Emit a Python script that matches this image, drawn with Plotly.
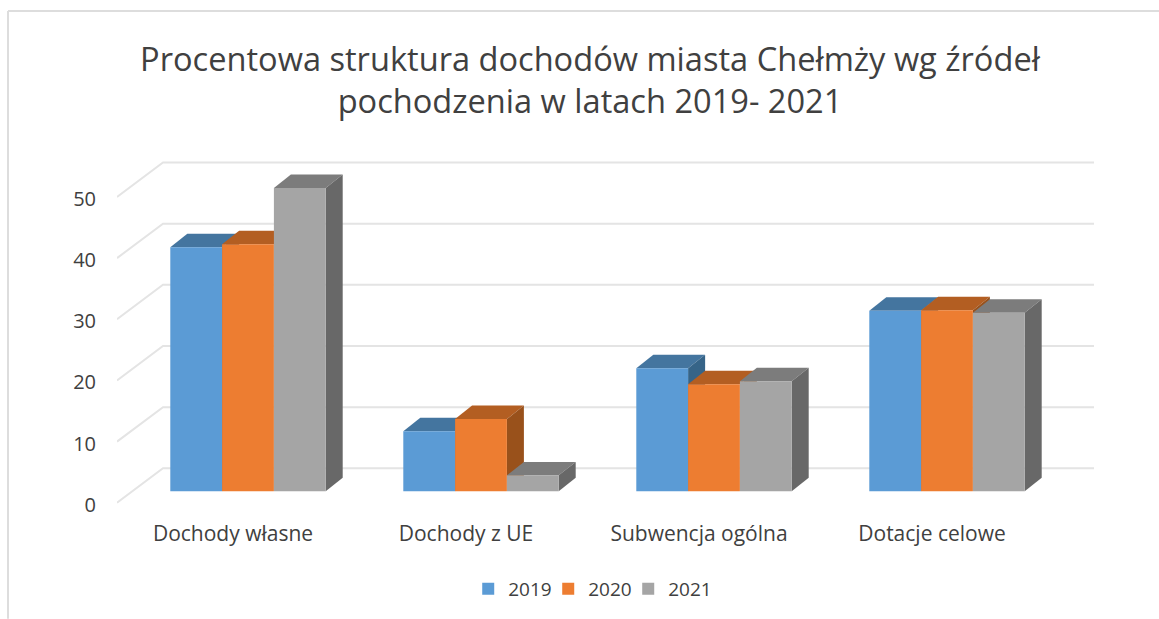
import plotly.graph_objects as go

categories = ["Dochody własne", "Dochody z UE", "Subwencja ogólna", "Dotacje celowe"]
years = ["2019", "2020", "2021"]
v2019 = [39.9, 9.8, 20.1, 29.5]
v2020 = [40.4, 11.8, 17.5, 29.6]
v2021 = [49.6, 2.6, 18.0, 29.2]
y_ticks = [0, 10, 20, 30, 40, 50]
series_values = [v2019, v2020, v2021]
front_colors = ["#5B9BD5", "#ED7D31", "#A5A5A5"]
top_colors = ["#44759F", "#B35E22", "#7C7C7C"]
side_colors = ["#366488", "#99511B", "#686868"]

W, H = 1159, 619
PX_X = 233.0
PX_Y = 6.12
Y_MIN = -2
L, R, T = 117, 1094, 130
ZERO_PX = 503
B = ZERO_PX - Y_MIN * PX_Y
x0 = -(248 - L) / PX_X
x1 = (R - 248) / PX_X
ymax = (ZERO_PX - T) / PX_Y
xr = [x0, x1]
yr = [Y_MIN, ymax]

bar_w = 51.8 / PX_X
base = 11.5 / PX_Y
dx = 17 / PX_X
dy = 13.5 / PX_Y
back_dx = 46 / PX_X
back_dy = 34.5 / PX_Y
label_shift = -15 / PX_X
y_label_shift = -2 / PX_Y

fig = go.Figure()

for v in y_ticks:
    fig.add_trace(go.Scatter(
        x=[x0, x0 + back_dx, x1], y=[v, v + back_dy, v + back_dy],
        mode="lines", line=dict(color="#E4E4E4", width=2),
        showlegend=False, hoverinfo="skip"))

for g in range(len(categories)):
    for s, vals in enumerate(series_values):
        xl = g + (s - 1.5) * bar_w
        xr_ = xl + bar_w
        bot = base
        top = base + vals[g]
        fig.add_trace(go.Scatter(
            x=[xl, xl + dx, xr_ + dx, xr_, xl],
            y=[top, top + dy, top + dy, top, top],
            mode="lines", fill="toself", fillcolor=top_colors[s],
            line=dict(width=0), showlegend=False, hoverinfo="skip"))
        fig.add_trace(go.Scatter(
            x=[xr_, xr_ + dx, xr_ + dx, xr_, xr_],
            y=[top, top + dy, bot + dy, bot, top],
            mode="lines", fill="toself", fillcolor=side_colors[s],
            line=dict(width=0), showlegend=False, hoverinfo="skip"))

for s, vals in enumerate(series_values):
    fig.add_trace(go.Bar(
        name=years[s], x=list(range(len(categories))), y=vals,
        base=[base] * len(categories), marker=dict(color=front_colors[s], line=dict(width=0)),
        xaxis="x2", yaxis="y2", width=bar_w,
        offset=[(s - 1.5) * bar_w] * len(categories)))

text = "#404040"
fig.update_layout(
    width=W, height=H, autosize=False,
    margin=dict(l=L, r=W - R, t=T, b=H - B, pad=0),
    paper_bgcolor="white", plot_bgcolor="white",
    font=dict(family="Open Sans", color=text, size=20),
    barmode="overlay",
    title=dict(
        text="Procentowa struktura dochodów miasta Chełmży wg źródeł<br>pochodzenia w latach 2019- 2021",
        x=590 / W, xanchor="center", y=1 - 71 / H, yanchor="middle",
        font=dict(size=32.6, color=text)),
    xaxis=dict(range=xr, tickmode="array",
               tickvals=[i + label_shift for i in range(len(categories))],
               ticktext=categories, showgrid=False, zeroline=False, showline=False,
               ticks="", ticklabelstandoff=4,
               tickfont=dict(size=21, color=text)),
    yaxis=dict(range=yr, tickmode="array",
               tickvals=[v + y_label_shift for v in y_ticks],
               ticktext=[str(v) for v in y_ticks],
               showgrid=False, zeroline=False, showline=False,
               ticks="outside", ticklen=16, tickcolor="rgba(0,0,0,0)",
               tickfont=dict(size=20, color=text)),
    xaxis2=dict(range=xr, overlaying="x", visible=False),
    yaxis2=dict(range=yr, overlaying="y", visible=False),
    legend=dict(orientation="h", x=559 / W, xanchor="center", y=1 - 589 / H, yanchor="middle",
                yref="container", font=dict(size=19, color=text), itemclick=False, itemdoubleclick=False,
                entrywidth=35, entrywidthmode="pixels"),
    shapes=[
        dict(type="line", xref="paper", yref="paper", x0=(8 - L) / (R - L), x1=(8 - L) / (R - L),
             y0=(B - H) / (B - T), y1=(B - 11) / (B - T), line=dict(color="#DDDDDD", width=2)),
        dict(type="line", xref="paper", yref="paper", x0=(8 - L) / (R - L), x1=(W - L) / (R - L),
             y0=(B - 11) / (B - T), y1=(B - 11) / (B - T), line=dict(color="#DDDDDD", width=2)),
    ],
)
fig.write_html("out.html", config={"displayModeBar": False}, post_script="document.body.style.margin='0';")
